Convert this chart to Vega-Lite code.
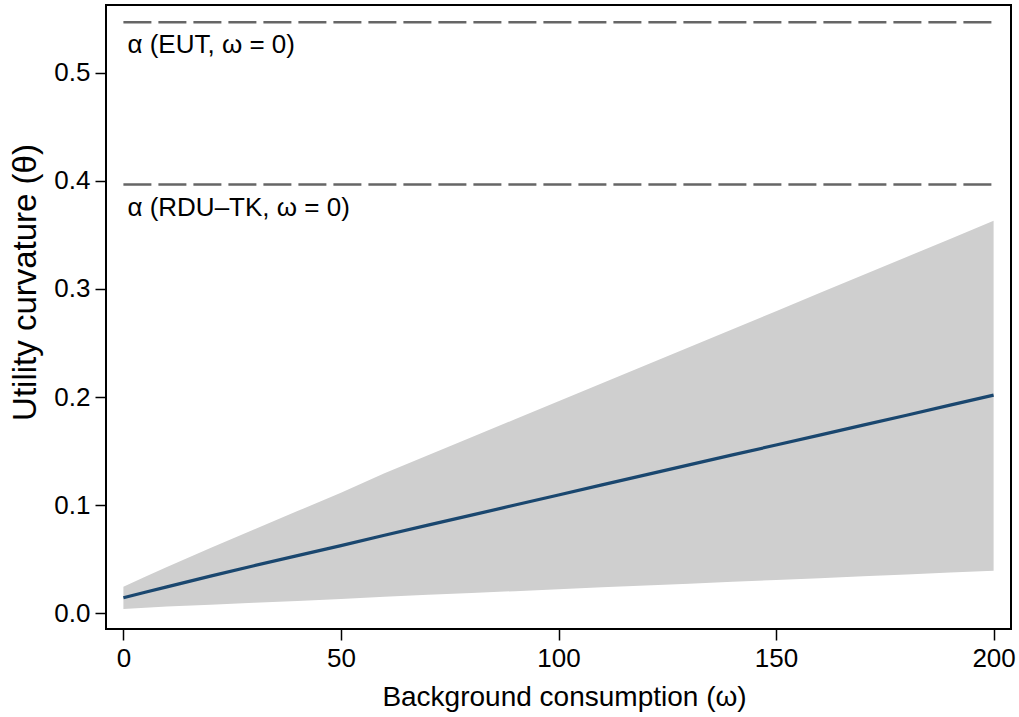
{
  "$schema": "https://vega.github.io/schema/vega-lite/v6.json",
  "autosize": {"type": "none"},
  "padding": {"left": 106, "top": 5, "right": 8, "bottom": 88},
  "width": 905,
  "height": 624,
  "background": "white",
  "config": {
    "view": {"stroke": "black", "strokeWidth": 2},
    "font": "Liberation Sans",
    "axis": {
      "domain": false,
      "grid": false,
      "ticks": true,
      "tickColor": "black",
      "tickWidth": 1.5,
      "tickSize": 11,
      "labelColor": "black",
      "titleColor": "black",
      "labelFont": "Liberation Sans",
      "titleFont": "Liberation Sans",
      "labelFontSize": 26,
      "titleFontSize": 28,
      "titleFontWeight": "normal"
    }
  },
  "datasets": {
    "fit": [
      {"omega": 0, "theta": 0.0144, "lo": 0.0040, "hi": 0.0246},
      {"omega": 5, "theta": 0.0195, "lo": 0.0052, "hi": 0.0338},
      {"omega": 10, "theta": 0.0245, "lo": 0.0062, "hi": 0.0428},
      {"omega": 20, "theta": 0.0344, "lo": 0.0080, "hi": 0.0603},
      {"omega": 30, "theta": 0.0440, "lo": 0.0097, "hi": 0.0775},
      {"omega": 40, "theta": 0.0533, "lo": 0.0115, "hi": 0.0945},
      {"omega": 50, "theta": 0.0626, "lo": 0.0133, "hi": 0.1115},
      {"omega": 60, "theta": 0.0722, "lo": 0.0154, "hi": 0.1295},
      {"omega": 70, "theta": 0.0815, "lo": 0.0171, "hi": 0.1461},
      {"omega": 80, "theta": 0.0908, "lo": 0.0188, "hi": 0.1628},
      {"omega": 90, "theta": 0.1001, "lo": 0.0205, "hi": 0.1794},
      {"omega": 100, "theta": 0.1094, "lo": 0.0222, "hi": 0.1961},
      {"omega": 110, "theta": 0.1188, "lo": 0.0240, "hi": 0.2128},
      {"omega": 120, "theta": 0.1280, "lo": 0.0257, "hi": 0.2294},
      {"omega": 130, "theta": 0.1373, "lo": 0.0274, "hi": 0.2460},
      {"omega": 140, "theta": 0.1465, "lo": 0.0291, "hi": 0.2627},
      {"omega": 150, "theta": 0.1556, "lo": 0.0308, "hi": 0.2794},
      {"omega": 160, "theta": 0.1648, "lo": 0.0325, "hi": 0.2961},
      {"omega": 170, "theta": 0.1740, "lo": 0.0342, "hi": 0.3128},
      {"omega": 180, "theta": 0.1832, "lo": 0.0360, "hi": 0.3295},
      {"omega": 190, "theta": 0.1925, "lo": 0.0377, "hi": 0.3462},
      {"omega": 200, "theta": 0.2018, "lo": 0.0394, "hi": 0.3629}
    ],
    "refs": [
      {"label": "α (EUT, ω = 0)", "alpha": 0.5465, "start": 0, "end": 200},
      {"label": "α (RDU–TK, ω = 0)", "alpha": 0.3965, "start": 0, "end": 200}
    ]
  },
  "layer": [
    {
      "data": {"name": "fit"},
      "mark": {"type": "area", "color": "#cfcfcf", "opacity": 1},
      "encoding": {
        "x": {
          "field": "omega", "type": "quantitative",
          "scale": {"domain": [-4, 204], "nice": false, "zero": false},
          "axis": {
            "values": [0, 50, 100, 150, 200],
            "title": "Background consumption (ω)",
            "labelBaseline": "alphabetic",
            "labelPadding": 26,
            "titleBaseline": "alphabetic",
            "titleY": 76,
            "titleX": 458
          }
        },
        "y": {
          "field": "lo", "type": "quantitative",
          "scale": {"domain": [-0.0145, 0.5625], "nice": false, "zero": false},
          "axis": {
            "values": [0, 0.1, 0.2, 0.3, 0.4, 0.5],
            "format": ".1f",
            "title": "Utility curvature (θ)",
            "titleFontSize": 33,
            "labelPadding": 5,
            "titleAngle": 270,
            "titleBaseline": "alphabetic",
            "titleX": -71,
            "titleY": 277
          }
        },
        "y2": {"field": "hi"}
      }
    },
    {
      "data": {"name": "fit"},
      "mark": {"type": "line", "color": "#1a476f", "strokeWidth": 3.2},
      "encoding": {
        "x": {"field": "omega", "type": "quantitative"},
        "y": {"field": "theta", "type": "quantitative"}
      }
    },
    {
      "data": {"name": "refs"},
      "mark": {"type": "rule", "color": "#666666", "strokeWidth": 2.6, "strokeDash": [28, 7]},
      "encoding": {
        "x": {"field": "start", "type": "quantitative"},
        "x2": {"field": "end"},
        "y": {"field": "alpha", "type": "quantitative"}
      }
    },
    {
      "data": {"name": "refs"},
      "mark": {"type": "text", "align": "left", "baseline": "alphabetic", "dx": 4, "dy": 31, "fontSize": 26, "font": "Liberation Sans", "color": "black"},
      "encoding": {
        "x": {"field": "start", "type": "quantitative"},
        "y": {"field": "alpha", "type": "quantitative"},
        "text": {"field": "label"}
      }
    }
  ]
}
